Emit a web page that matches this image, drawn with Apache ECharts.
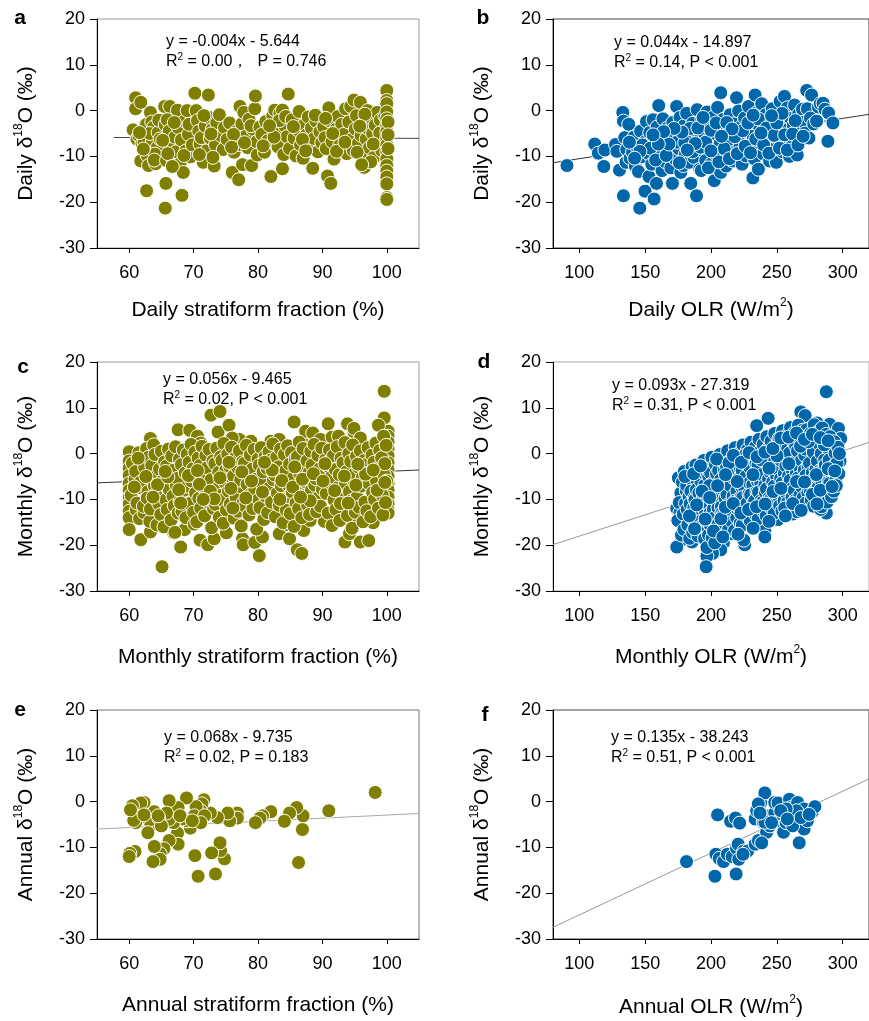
<!DOCTYPE html>
<html lang="en" style="height: 100%">
<head>
  <meta charset="utf-8">
</head>
<body style="height: 100%; margin: 0; background: #fff">
  <div id="container" style="width: 869px; height: 1021px"></div>

  <script type="text/javascript" src="https://cdn.jsdelivr.net/npm/echarts@6/dist/echarts.min.js"></script>

  <script type="text/javascript">
    // tick values
    var fracTicks = [60, 70, 80, 90, 100];
    var olrTicks = [100, 150, 200, 250, 300];

    // a: daily stratiform fraction (%) vs daily d18O
    var aPts = [
      [60.6,-4.2],[61.0,2.8],[61.0,0.4],[61.2,-6.2],[61.8,1.8],[61.8,-11],[61.5,-5.5],[62.0,-7.2],[62.3,-7],[62.5,-3.1],
      [62.7,-3],[62.7,-17.5],[62.8,-9.8],[63.0,-12],[63.3,-0.4],[63.5,-2.5],[63.6,-6.5],[63.8,-3.6],[63.2,-5],[64.1,-11.6],
      [64.4,-8],[64.5,-4.8],[64.0,-9.5],[64.8,-6.2],[63.9,-10.8],[62.2,-8.4],[61.6,-4.8],[64.6,-2.1],
      [65.5,0.9],[65.6,-21.3],[65.7,-15.9],[65.8,-10.9],[66.3,0.9],[65.6,-3.1],[65.9,-2],[66.2,-4.5],[66.5,-7.8],[66.9,-11.1],
      [67.1,-5.8],[67.5,0.1],[67.3,-9],[67.6,-3.7],[67.9,-11.6],[68.2,-18.5],[68.4,-13.5],[68.1,-6.4],[68.6,-2.3],[68.8,-8.8],
      [69.0,0],[69.2,-5.2],[69.5,-10.1],[69.3,-3],[66.0,-9.4],[67.0,-2.6],[68.5,-9.8],[69.8,-7.5],[65.2,-6.5],[66.7,-12.2],
      [70.2,3.8],[70.4,0],[70.6,-2.2],[70.8,-4.5],[71.0,-7.3],[71.2,-5.9],[71.5,-11.3],[71.8,-3.4],[72.0,-8.8],[72.3,3.4],
      [72.4,-1.5],[72.6,-6],[72.9,-4.1],[73.2,-12.1],[73.4,-7.5],[73.6,-2.7],[74.0,-0.9],[74.3,-5.5],[74.6,-8.5],[73.0,-10.2],
      [71.6,-1.1],[74.8,-3.7],[70.9,-9.6],[72.7,-5.1],
      [75.2,-6.3],[75.6,-2.7],[76.0,-13.5],[76.3,-9.1],[76.6,-4.6],[77.0,-15.1],[77.2,0.9],[77.1,-7.4],[77.5,-2.9],[77.6,-11.8],
      [77.8,-0.4],[78.1,-5.6],[78.4,-8.1],[78.6,-1.9],[79.0,-12],[79.2,-4.1],[79.5,0.4],[79.6,3.2],[79.8,-6.8],[79.9,-9.7],
      [76.2,-5.2],[78.9,-3.3],[75.9,-8.0],[77.9,-7.0],
      [80.3,-3.6],[80.6,-5.2],[81.0,-9.1],[81.2,-2.4],[81.5,-6.6],[82.0,-14.4],[82.3,-1.2],[82.6,0.1],[82.8,-4.5],[83.1,-7.9],
      [83.4,-0.6],[83.8,0.1],[83.8,-12.7],[84.0,-9.6],[84.2,-3.4],[84.7,3.6],[84.5,-5.7],[84.9,-8.3],[82.5,-5.8],[83.3,-2.2],
      [80.8,-7.7],[81.8,-3.3],[84.3,-1.3],
      [85.3,-2],[85.6,-6],[85.9,-9.9],[86.2,-4.2],[86.4,-0.2],[86.6,-7.5],[87.0,-10.4],[87.2,-3.1],[87.5,-5.3],[87.8,-1.4],
      [88.0,-8.2],[88.3,-3.8],[88.5,-12.6],[88.7,-6.1],[89.0,-2.3],[89.3,-9],[89.6,-4.6],[89.9,-7],[85.5,-3.5],[86.9,-6.3],
      [88.9,-1.0],[87.4,-8.8],
      [90.2,-3.5],[90.4,-5.9],[90.6,-8.3],[90.8,-14.3],[91.0,0.6],[91.3,-15.9],[91.1,-2.2],[91.5,-6.8],[91.8,-10.6],[92.1,-4.1],
      [92.4,-1.3],[92.7,-7.6],[93.0,-3],[93.3,-5.2],[93.6,0.4],[93.8,-9.4],[94.1,-2.5],[94.4,0.9],[94.6,-6.3],[94.9,2.3],
      [94.8,-8.7],[90.5,-1.7],[92.2,-8.9],[93.5,-6.9],[91.6,-5.0],
      [95.1,-4],[95.3,-1.1],[95.6,-7.1],[95.9,1.8],[96.0,-5.4],[96.2,-9.8],[96.4,-2.8],[96.5,-12.4],[96.8,-6.2],[97.0,0],
      [97.1,-3.9],[97.3,-8.1],[97.6,-1.6],[97.8,-5],[98.0,-10.2],[98.2,-3.2],[98.5,-0.4],[98.7,-6.8],[99.0,-2.1],[99.2,-8.7],
      [99.5,-4.4],[99.7,-1.2],[95.4,-9.1],[96.6,-0.8],[97.5,-11.2],[98.9,-4.9],[95.8,-3.4],[97.9,-7.3],[96.1,-11.8],
      [100,4.4],[100,2.2],[100,1.5],[100,-0.3],[100,-1.8],[100,-3.2],[100,-4.6],[100,-6],[100,-7.5],[100,-9],
      [100,-10.5],[100,-12],[100,-13.2],[100,-14.5],[100,-16],[100,-19],[100,-19.4],[100.2,-2.5],[100.2,-5.3],[100.2,-8.3]
    ];

    // b: daily OLR vs daily d18O
    var bPts = [
      [90.6,-12],[111.7,-7.3],[114.4,-9.3],[118.6,-12.2],[119.4,-8.6],[127.5,-7.4],[128.5,-8.9],[130.5,-13],[133,-0.4],[133.5,-2.3],
      [133.5,-18.6],[134.5,-5.9],[135.5,-11.3],[136,-8.5],[137.5,-3],[138.5,-10.4],[140.4,-9.1],[141.5,-5.8],[142.5,-12.1],[144,-8],
      [144.9,-13.3],[145.9,-21.3],[146.5,-4.5],[147.5,-10.1],[149.9,-17.6],[150,-6.8],[151,-2.4],[152,-9.3],[152.9,-14.4],[153.5,-4.8],
      [155,-11.7],[156,-2],[156.8,-19.3],[157,-7.3],[158.6,-15.9],[159,-3.6],[160.3,1.1],[160.5,-9.9],[161.5,-5.5],[162.8,-13.1],
      [163.5,-1.8],[164.5,-7.6],[165.5,-11.2],[166.5,-3.9],[167.5,-9.2],[168.5,-5.3],[169.5,-12.5],[170.7,-15.9],[171,-2.6],[172,-7],
      [173,-10.6],[173.9,0.9],[174.5,-4.6],[175.5,-8.3],[176.5,-1.5],[177,-13.5],[178,-6.1],[178.9,-12],[179.5,-3.3],[180.5,-9.5],
      [181.5,-0.6],[182.5,-5.2],[183.5,-11.3],[184.6,-15.9],[185,-7.8],[186,-2.8],[187,-10.2],[188,-4.4],[189,-18.6],[189.5,0.2],
      [190.5,-6.6],[191.5,-12.8],[192.6,-13.1],[193,-2],[194,-8.8],[195,-4.9],[196,-10.9],[197,-0.3],[198,-6.3],[199,-3.1],
      [200,-11.7],[201,-8],[202,-1.4],[202.5,-15.3],[203,-5],[204,-9.6],[205,0.7],[206,-3.7],[207,-7.1],[207.4,3.9],
      [207.4,-13.5],[208.5,-10.2],[209.5,-1.9],[210.5,-5.9],[211.5,-12.1],[212.5,-4.1],[213.5,-8.5],[214.5,-0.9],[215.5,-6.7],[216.5,-11],
      [217.5,-2.9],[218.5,-9],[219.4,2.8],[220,-5.3],[221,-0.1],[222,-7.9],[223,-3.5],[223.6,-11.7],[224.5,-6],[225.5,-1.6],
      [226.5,-9.9],[227.5,-4.6],[228.5,0.9],[229.5,-7.3],[230.5,-2.4],[231.8,-14.7],[232,-5.6],[233,-10.5],[233.5,3.4],[234.5,-0.5],
      [235.5,-8.2],[236,-12.8],[236.5,-3.3],[237.5,-6.6],[238.5,1.5],[239.5,-9.4],[240.5,-4.2],[241.5,-0.9],[242.5,-7],[243.5,-2.1],
      [244.5,-11],[245.5,-5.1],[246.5,0.4],[247.5,-8.4],[248.5,-3.4],[249.6,-11.3],[250.5,-6.1],[251.5,-1.3],[252.5,2],[253.5,-4.6],
      [254.5,-9],[255.8,3.1],[256,-2.6],[257,-6.8],[258,0.6],[259,-4],[259.6,-10],[260.5,-1.7],[261.5,-7.6],[262.5,-3.2],
      [263.5,1.2],[264.5,-5.4],[265.5,-9.7],[266.5,-0.8],[267.5,-3.9],[268.5,-6.4],[269.5,0.3],[270.5,-2.5],[271.5,-4.9],[272.7,4.4],
      [273.2,0.4],[274.4,-6],[275.5,-1.6],[276.4,3.4],[278,-2.9],[280.2,-2.3],[281.5,0.8],[283,1.5],[285.1,1.6],[286.5,0.3],
      [288.8,-6.7],[289.3,-0.5],[292.6,-2.7],
      [148,-7.5],[154,-8.2],[158,-10.8],[162,-6.2],[166,-9.8],[170,-4.4],[174,-6.9],[176,-11.4],[180,-7],[184,-3.9],
      [186,-9],[190,-3.8],[192,-8],[196,-6.9],[198,-12.5],[200,-4.3],[204,-2.7],[206,-11.2],[210,-8.3],[212,-2.6],
      [214,-10.5],[218,-5.7],[220,-9.4],[224,-4.4],[226,-7.8],[228,-2.7],[230,-9.2],[234,-6.2],[236,-1.8],[240,-7.5],
      [242,-3.8],[244,-9.3],[248,-5.4],[250,-2.7],[252,-8.2],[256,-5.3],[258,-8.6],[262,-5.1],[264,-2.2],[266,-7.5],
      [270,-5.6],[254,-0.6],[246,-1.1],[238,-4.9],[232,-1.0],[216,-4.0],[208,-5.6],[200,-8.8],[194,-1.5],[188,-7.2],
      [182,-8.6],[178,-4.7],[172,-3.9],[168,-7.3],[164,-4.6],[160,-7.3],[156,-5.3],[146,-8.9],[142,-10.4],[138,-6.9]
    ];

    // c: monthly stratiform fraction (%) vs monthly d18O
    var cPts = [
      [60,0.4],[60,-1.6],[60,-3.2],[60,-4.8],[60,-6.5],[60,-8],[60,-9.5],[60,-11],[60,-12.6],[60,-14],[60,-16.6],
      [100.2,4.9],[100.2,3.8],[100.2,2.5],[100.2,1],[100.2,-0.5],[100.2,-2],[100.2,-3.5],[100.2,-5],[100.2,-6.5],[100.2,-8],
      [100.2,-9.5],[100.2,-11],[100.2,-12.4],[100.2,-13],
      [99.6,13.6],[99.6,7.8],[98.7,6.2],[72.7,8.4],[74.1,9.2],[73.8,4.7],[67.6,5.2],[69.4,5.1],[75.5,6.2],[85.6,6.9],
      [90.9,6.5],[93.9,6.5],[94.9,4.7],[63.3,3.3],[70.6,3.8],[65.1,-24.7],[68,-20.4],[61.8,-18.8],[63.3,-17.1],[71,-18.9],
      [72.2,-19.9],[73.2,-18.6],[75.1,-17.3],[77.6,-18.6],[77.7,-19.9],[79.5,-19.4],[80.2,-22.3],[80.7,-18.2],[83.3,-17.5],[84.9,-18.6],
      [86.1,-21],[86.8,-21.8],[87.1,-16.8],[88.1,-14.6],[93.5,-19.3],[94.2,-17.5],[95.9,-19.3],[97.2,-19],[97.9,-15.1],[90.3,-14.8],
      [92.4,-14.8],[94.7,-14.4],[68.6,-16.6],[66.2,-16.2],[66.9,-17.3],[84.6,-15.5],[84.6,-12.6],[80.9,-13.7],[76.3,-13.7],
      [82,2.7],[83.3,3.1],[86.9,2.3],[87.4,4.9],[88.5,4.5],[89.7,3.1],[91.5,3.6],[92.5,3.8],[94.9,5.5],[95.9,3.4],
      [77.1,3.1],[78.9,2.7],[76,3.4],[71.1,2.3],
      [60.5,-2.1],[60.9,-5.6],[60.3,-9.1],[61.1,-12.3],[61.5,0.2],[61.0,-3.9],[61.7,-7.4],[61.2,-10.8],[61.6,-14.2],
      [62.1,-1.5],[61.8,-6.2],[62.3,-12.9],[62.7,1.1],[62.4,-3.0],[62.9,-8.3],[62.2,-11.5],
      [63.0,-0.8],[63.4,-5.1],[62.8,-9.7],[63.2,-14.8],[63.8,1.9],[63.5,-2.6],[63.9,-7.0],[63.3,-12.1],
      [64.0,-0.2],[64.5,-4.4],[64.1,-8.9],[64.6,-11.0],[64.3,-15.6],[65.0,0.5],[64.7,-3.4],[65.1,-6.5],[64.9,-13.3],
      [65.5,-1.8],[65.2,-5.9],[65.7,-10.1],[65.4,-16.0],[66.1,1.0],[65.8,-2.7],[66.2,-7.8],[65.9,-12.2],
      [66.6,-0.5],[66.3,-4.8],[66.8,-9.3],[66.5,-14.5],[67.2,1.5],[66.9,-3.6],[67.3,-6.9],[67.0,-11.4],[67.1,-17.2],
      [67.8,-1.2],[67.5,-5.4],[67.9,-10.4],[67.6,-13.0],[68.4,0.8],[68.1,-2.4],[68.5,-8.0],[68.2,-12.6],
      [69.0,-0.1],[68.7,-4.2],[69.1,-7.1],[68.8,-14.0],[69.6,2.0],[69.3,-1.9],[69.7,-6.0],[69.4,-10.9],
      [70.2,0.3],[69.9,-3.3],[70.3,-8.6],[70.0,-12.8],[70.1,-15.4],[70.7,-1.0],[70.4,-5.2],[70.8,-9.8],[70.5,-14.9],
      [71.3,1.6],[71.0,-2.6],[71.4,-7.3],[71.1,-11.9],[71.9,-0.4],[71.6,-4.6],[72.0,-8.9],[71.7,-13.6],
      [72.4,0.9],[72.1,-3.1],[72.5,-6.4],[72.2,-10.5],[73.0,-1.6],[72.7,-5.7],[73.1,-12.0],[72.8,-16.2],
      [73.6,1.2],[73.3,-2.2],[73.7,-7.6],[73.4,-11.1],[74.2,-0.7],[73.9,-4.1],[74.3,-9.1],[74.0,-13.9],
      [74.7,2.2],[74.4,-1.5],[74.8,-6.2],[74.5,-10.2],[74.6,-15.2],[75.3,-0.1],[75.0,-3.6],[75.4,-8.2],[75.1,-12.3],
      [75.9,1.4],[75.6,-2.8],[76.0,-5.5],[75.7,-11.0],[76.5,-0.9],[76.2,-4.9],[76.6,-9.6],[76.3,-14.1],
      [77.1,0.6],[76.8,-3.0],[77.2,-7.2],[76.9,-12.6],[77.6,-1.8],[77.3,-5.8],[77.7,-10.7],[77.4,-15.8],
      [78.2,1.8],[77.9,-2.1],[78.3,-6.7],[78.0,-11.5],[78.8,-0.3],[78.5,-4.3],[78.9,-8.8],[78.6,-13.4],
      [79.4,0.9],[79.1,-3.4],[79.5,-7.9],[79.2,-12.0],[80.0,-1.2],[79.7,-5.6],[80.1,-10.0],[79.8,-16.5],
      [80.5,1.3],[80.2,-2.5],[80.6,-6.4],[80.3,-11.8],[81.1,-0.6],[80.8,-4.0],[81.2,-9.3],[80.9,-14.4],
      [81.7,0.4],[81.4,-3.2],[81.8,-7.5],[81.5,-12.9],[82.3,2.1],[82.0,-1.4],[82.4,-5.7],[82.1,-10.6],
      [82.9,-0.8],[82.6,-4.7],[83.0,-8.6],[82.7,-13.8],[83.5,1.0],[83.2,-2.9],[83.6,-7.0],[83.3,-11.3],
      [84.1,-0.2],[83.8,-5.0],[84.2,-9.9],[83.9,-15.1],[84.6,1.7],[84.3,-3.7],[84.7,-6.8],[84.4,-12.4],
      [85.2,0.2],[84.9,-2.3],[85.3,-8.4],[85.0,-13.1],[85.8,-1.1],[85.5,-5.3],[85.9,-10.8],[85.6,-15.9],
      [86.4,2.5],[86.1,-0.7],[86.5,-4.5],[86.2,-7.6],[86.3,-12.0],[87.0,1.1],[86.7,-3.1],[87.1,-9.2],[86.8,-14.0],
      [87.6,-1.6],[87.3,-6.1],[87.7,-11.2],[88.2,0.5],[87.9,-4.2],[88.3,-8.0],[88.0,-13.3],
      [88.7,2.0],[88.4,-2.5],[88.8,-6.9],[88.5,-10.4],[89.3,-0.4],[89.0,-5.5],[89.4,-9.6],[89.1,-12.7],
      [89.9,1.2],[89.6,-3.3],[90.0,-7.8],[89.7,-11.5],[90.5,-1.3],[90.2,-4.8],[90.6,-8.7],
      [91.1,0.8],[90.8,-2.7],[91.2,-6.3],[90.9,-13.0],[91.7,-0.5],[91.4,-5.1],[91.8,-10.1],[91.5,-15.7],
      [92.3,1.5],[92.0,-3.5],[92.4,-7.4],[92.1,-12.2],[92.9,-1.0],[92.6,-4.6],[93.0,-9.0],[92.7,-14.6],
      [93.5,2.4],[93.2,-2.0],[93.6,-6.6],[93.3,-11.0],[94.1,0.0],[93.8,-3.9],[94.2,-8.3],[93.9,-13.5],
      [94.7,1.9],[94.4,-1.7],[94.8,-5.8],[94.5,-10.3],[94.6,-16.3],[95.3,-0.6],[95.0,-4.4],[95.4,-9.5],[95.1,-12.8],
      [95.9,0.6],[95.6,-3.0],[96.0,-7.1],[95.7,-11.7],[96.5,-1.5],[96.2,-5.2],[96.6,-10.6],[96.3,-14.9],
      [97.1,1.3],[96.8,-2.4],[97.2,-6.5],[96.9,-12.5],[97.7,-0.3],[97.4,-4.1],[97.8,-8.5],[97.5,-13.8],
      [98.3,2.3],[98.0,-1.9],[98.4,-5.9],[98.1,-10.0],[98.9,0.7],[98.6,-3.2],[99.0,-7.7],[98.7,-11.9],
      [99.5,3.8],[99.2,-0.9],[99.6,-4.7],[99.3,-9.1],[99.4,-13.4],[99.9,1.8],[99.7,-2.2],[100.0,-6.0],[99.8,-10.7],
      [60.8,-7.3],[62.6,-5.0],[64.4,-6.8],[66.0,-5.1],[67.7,-7.9],[69.2,-4.8],[70.9,-6.7],[72.6,-8.2],[74.1,-5.3],[75.8,-7.6],
      [77.5,-4.0],[79.0,-6.0],[80.7,-8.4],[82.2,-3.6],[83.7,-5.9],[85.4,-7.3],[86.9,-5.6],[88.6,-4.4],[90.1,-6.0],[91.9,-8.1],
      [93.4,-4.9],[95.2,-6.9],[96.7,-4.5],[98.5,-8.0],[99.7,-6.3],[61.4,-1.0],[63.7,-9.5],[65.6,-3.9],[68.0,-10.8],[70.6,-3.7],
      [73.2,-9.9],[75.5,-1.9],[78.1,-9.7],[81.0,-1.9],[83.4,-10.0],[85.7,-2.9],[88.1,-10.3],[90.4,-2.2],[92.8,-10.9],[95.5,-2.3],
      [97.9,-3.6],[71.5,-10.0],[76.1,-11.9],[86.6,-9.5],[94.0,-10.8]
    ];

    // d: monthly OLR vs monthly d18O
    var dPts = [
      [287.6,13.5],[268.2,9.1],[271.5,8.3],[243.4,7.7],[234.7,6.1],[280.6,6.7],[290.1,6.4],[296.8,5.5],[298.5,3.3],[292.6,0.1],
      [298,-1.7],[293,-5.4],[291.8,-7.9],[287.6,-13],[262,-13.2],[250.9,-14.4],[247.1,-13],[239.7,-15.5],[240.9,-16.8],[240.9,-18.2],
      [225.6,-19.9],[224.9,-18.9],[216.1,-17.5],[209.4,-19.5],[207.4,-21],[201.2,-21.8],[196.9,-22.4],[196.3,-24.7],[198.5,-18.9],[185.6,-19.3],
      [177.7,-18.8],[174,-20.4],[174,-12],[177.7,-10.1],[178.4,-5.6],[183.9,-3.4],[189.6,-3.3],[192.6,-17],[190,-15.2],[182.6,-14.4],
      [175.2,-5.3],[177.1,-8.6],[176.4,-12.9],[174.8,-14.6],[177.6,-17.8],[175.9,-10.7],
      [179.8,-3.9],[178.3,-6.2],[180.6,-10.9],[178.9,-13.2],[179.4,-16.6],[181.2,-8.1],
      [182.7,-4.8],[181.5,-7.0],[183.3,-9.4],[181.9,-12.2],[182.4,-15.6],[183.8,-18.5],[184.1,-11.0],
      [185.6,-2.9],[186.4,-6.3],[184.7,-8.2],[186.9,-11.9],[185.2,-14.1],[186.1,-17.2],[187.3,-9.7],
      [188.5,-2.5],[189.3,-5.7],[187.8,-10.1],[189.9,-12.8],[188.2,-15.8],[190.1,-18.0],[188.9,-7.9],
      [191.4,-4.1],[192.3,-6.0],[190.8,-8.6],[192.8,-11.4],[191.7,-13.2],[193.1,-16.3],[190.6,-14.9],
      [194.6,-1.5],[193.7,-4.1],[195.3,-6.9],[194.2,-9.5],[195.8,-12.6],[193.9,-15.5],[195.1,-18.6],[196.2,-10.8],
      [197.5,-2.9],[198.3,-5.0],[196.6,-8.1],[198.8,-11.3],[197.2,-14.9],[198.1,-17.8],[196.9,-20.5],[199.2,-13.0],
      [200.6,-0.8],[199.7,-4.2],[201.3,-6.4],[200.2,-9.9],[201.8,-12.1],[199.4,-15.6],[200.9,-18.4],[202.1,-7.5],
      [203.4,-2.4],[204.2,-4.4],[202.7,-8.3],[204.6,-10.2],[203.1,-13.9],[204.9,-16.1],[202.9,-19.5],[205.3,-11.8],
      [206.7,-0.2],[205.8,-3.7],[207.4,-5.7],[206.2,-9.5],[207.9,-11.6],[205.5,-15.3],[207.1,-17.1],[208.2,-13.0],
      [209.3,-1.8],[210.2,-3.6],[208.6,-7.7],[210.7,-9.8],[209.1,-13.4],[210.5,-15.6],[211.3,-6.2],
      [212.6,0.6],[211.8,-2.9],[213.4,-5.0],[212.1,-8.9],[213.9,-11.0],[211.6,-14.6],[213.2,-16.6],[214.3,-12.6],
      [215.5,-1.3],[216.3,-3.2],[214.7,-7.0],[216.8,-9.3],[215.2,-12.8],[216.1,-14.9],[217.2,-5.3],
      [218.4,1.3],[219.2,-2.2],[217.6,-4.3],[219.7,-8.2],[218.1,-10.4],[219.5,-14.0],[217.9,-16.8],[220.2,-12.1],
      [221.6,0.1],[222.4,-3.4],[220.8,-5.6],[222.9,-9.5],[221.3,-11.8],[222.2,-15.2],[223.4,-7.3],
      [224.3,1.9],[225.1,-1.6],[223.7,-3.7],[225.6,-7.5],[224.0,-9.6],[225.4,-13.4],[223.8,-15.6],[226.2,-11.3],
      [227.6,0.8],[228.3,-2.7],[226.8,-4.9],[228.9,-8.8],[227.2,-10.9],[228.1,-14.0],[229.3,-6.4],
      [230.4,2.5],[231.2,-1.1],[229.7,-3.1],[231.7,-6.8],[230.1,-9.0],[231.5,-12.9],[229.9,-14.7],[232.3,-10.7],
      [233.6,1.4],[234.3,-2.2],[232.8,-4.4],[234.9,-8.3],[233.2,-10.3],[234.1,-13.4],[235.3,-6.0],
      [236.4,3.1],[237.2,0.4],[235.7,-2.5],[237.7,-6.2],[236.1,-8.4],[237.5,-12.3],[235.9,-14.2],[238.3,-10.2],
      [239.6,2.0],[240.3,-0.9],[238.8,-4.6],[240.9,-6.9],[239.2,-10.6],[240.1,-12.7],[241.3,-8.5],
      [242.4,3.7],[243.2,1.0],[241.7,-1.8],[243.7,-5.6],[242.1,-7.7],[243.5,-11.6],[241.9,-13.6],[244.3,-9.6],
      [245.6,2.7],[246.3,-0.2],[244.8,-4.0],[246.9,-6.2],[245.2,-10.0],[246.1,-12.0],[247.3,-2.4],
      [248.4,4.4],[249.2,1.7],[247.7,-1.2],[249.7,-4.9],[248.1,-7.1],[249.5,-10.9],[247.9,-13.0],[250.3,-8.9],
      [251.6,3.3],[252.3,0.5],[250.8,-3.4],[252.9,-5.5],[251.2,-9.3],[252.1,-11.4],[253.3,-1.5],
      [254.4,5.0],[255.2,2.3],[253.7,-0.5],[255.7,-4.3],[254.1,-6.4],[255.5,-10.3],[253.9,-12.5],[256.3,-8.1],
      [257.6,3.9],[258.3,1.1],[256.8,-2.7],[258.9,-4.9],[257.2,-8.6],[258.1,-10.7],[259.3,-6.5],
      [260.4,5.7],[261.2,3.0],[259.7,0.1],[261.7,-3.6],[260.1,-5.8],[261.5,-9.6],[259.9,-11.8],[262.3,-7.4],
      [263.6,4.6],[264.3,1.7],[262.8,-2.0],[264.9,-4.2],[263.2,-8.0],[264.1,-10.2],[265.3,-12.7],
      [266.4,6.2],[267.2,3.4],[265.7,0.6],[267.7,-3.2],[266.1,-5.3],[267.5,-9.1],[265.9,-11.2],[268.3,-6.9],
      [269.6,5.1],[270.3,2.2],[268.8,-1.5],[270.9,-3.6],[269.2,-7.4],[270.1,-9.6],[271.3,-0.4],
      [272.4,5.2],[273.2,3.8],[271.7,1.0],[273.7,-2.7],[272.1,-4.8],[273.5,-8.5],[271.9,-10.8],[274.3,-6.4],
      [275.6,4.4],[276.3,1.6],[274.8,-2.1],[276.9,-4.2],[275.2,-7.9],[276.1,-10.1],[277.3,-5.9],
      [278.4,6.3],[279.2,3.1],[277.7,0.3],[279.7,-3.4],[278.1,-5.5],[279.5,-9.2],[277.9,-11.5],[280.3,-7.3],
      [281.6,4.8],[282.3,2.1],[280.8,-1.6],[282.9,-3.7],[281.2,-7.5],[282.1,-9.9],[283.3,-12.2],
      [284.4,5.6],[285.2,2.9],[283.7,0.0],[285.7,-3.1],[284.1,-6.0],[285.5,-8.9],[283.9,-11.6],[286.3,-1.4],
      [287.6,4.2],[288.3,1.3],[286.8,-2.5],[288.9,-4.6],[287.2,-7.8],[288.1,-10.6],[289.3,-6.2],
      [290.4,3.7],[291.2,2.0],[289.7,-1.4],[291.7,-4.3],[290.1,-6.5],[291.5,-9.4],
      [293.6,2.6],[294.3,0.1],[292.8,-2.8],[294.9,-5.6],[293.2,-8.2],
      [296.4,1.4],[295.7,-2.1],[297.1,-4.4],[295.2,-7.0],
      [180.2,-5.0],[183.6,-13.6],[186.8,-4.4],[189.1,-11.2],[192.0,-2.7],[195.6,-14.3],[198.9,-7.0],[201.9,-16.9],[204.3,-1.2],[207.6,-14.2],
      [210.9,-11.7],[213.7,-2.0],[216.9,-10.9],[219.9,-6.1],[222.7,-13.0],[226.1,-0.3],[228.6,-12.2],[231.9,-4.6],[234.6,-11.6],[237.9,-1.3],
      [241.1,-11.0],[244.1,-3.2],[247.1,-8.3],[250.1,-0.5],[253.1,-7.6],[256.0,-11.9],[259.1,-2.2],[262.1,-10.9],[265.0,-6.1],[268.0,1.6],
      [271.0,-6.2],[274.0,2.6],[277.0,-8.9],[280.0,-4.6],[283.0,-8.0],[286.0,1.9],[289.0,-3.3],[292.0,-7.2],[294.0,-3.8],[297.5,0.0],
      [187.5,-16.4],[193.3,-8.2],[199.0,-9.6],[205.0,-7.0],[211.0,-4.6],[217.0,-0.4],[223.0,-1.9],[229.0,0.2],[235.0,-0.7],[241.0,0.3],
      [247.0,1.1],[253.0,3.4],[259.0,3.6],[265.0,4.5],[271.0,3.1],[277.0,4.2],[283.0,3.5],[289.0,2.8],[244.0,-14.8],[256.5,-13.6],
      [268.5,-12.4],[280.5,-11.0],[232.0,-16.3],[220.5,-17.6],[209.0,-18.2]
    ];

    // e: annual stratiform fraction (%) vs annual d18O
    var ePts = [
      [98.2,2],[91,-2],[87,-3.1],[86.9,-6.1],[86.3,-13.3],[86,-1.3],[84.9,-2.5],[84.1,-4.3],[82,-2.2],[80.7,-3.1],
      [80.3,-3.6],[79.6,-4.6],[76.8,-2.5],[76.8,-3.6],[75.6,-4.2],[75.3,-2.5],[74.8,-12.5],[74.2,-10.7],[74.1,-9],[73.4,-15.8],
      [72.8,-11.2],[70.7,-16.3],[70.2,-11.8],[73.7,-3.5],[72.6,-2.5],[71.6,0.4],[71.3,-0.5],[71.1,-2],[70.4,-1.1],[70.1,-3.1],
      [69.5,-5.8],[69,-4.2],[68.9,0.8],[68.2,-3.8],[67.6,-1.3],[67.5,-6.9],[67.6,-9.3],[66.9,-4.6],[66.2,0.2],[66.2,-3.9],
      [66.2,-8.5],[65.8,-2.5],[65.4,-10.3],[64.8,-11.4],[64.8,-12.6],[64.1,-3.1],[64.1,-4.9],[63.9,-2.2],[63.9,-9.8],[63.7,-13.1],
      [63.1,-4.1],[62.9,-6.8],[62.3,-0.2],[61.8,-0.3],[61.7,-3.5],[61,-4.6],[60.7,-4.1],[60.5,-0.9],[60.2,-1.8],[60.9,-10.9],
      [60.1,-11.3],[60,-12],[62.3,-2.9],[64.6,-3.6],[67.9,-3.1],[71.7,-3.1],[71.1,-4.6],[69.8,-4.2],[65,-5.3],[64.5,-3.1]
    ];

    // f: annual OLR vs annual d18O
    var fPts = [
      [181.4,-13.1],[203,-16.3],[219.1,-15.8],[205,-2.9],[214.9,-4.3],[218.6,-3.6],[221.8,-4.7],[203.7,-11.5],[206.2,-12.4],[209.5,-13.1],
      [212.4,-11.5],[216.1,-12],[219.4,-10.2],[220.6,-9.3],[221.1,-12.6],[224.8,-10.8],[227.8,-10.8],[224.3,-11.5],[233.5,-9.3],[236,-8.5],
      [233.5,-3.8],[234.7,-2],[237.2,-0.8],[237.7,-0.2],[240.9,1.9],[239.7,-4.5],[242.2,-6.7],[240.9,-3.1],[244.7,-3.1],[248.4,-2.5],
      [248.4,-0.2],[250.9,-0.3],[251.6,-4.2],[254.6,-3.1],[255.1,-6.7],[257.1,-4.6],[259.6,0.5],[260.8,-1.3],[263.3,-4.2],[265.8,-0.2],
      [267,-9],[269.5,-3.1],[270.7,-1.6],[270.7,-6],[273.2,-4.2],[276.9,-2.2],[278.9,-1.1],[265,-2],[257.1,-1.6],[244.7,-5.3],
      [240.9,-4.5],[235.9,-0.5],[237.2,-2.5],[262,-5.3],[268.2,-3.5],[246,-4.6],[253,-2],[258,-3.8],[274.5,-2.8],[238.5,-9]
    ];

    // regression lines, end points
    var aLine = [[57.6, -5.87], [105, -6.06]];
    var bLine = [[80, -11.38], [320, -0.82]];
    var cLine = [[55, -6.39], [105, -3.59]];
    var dLine = [[80, -19.88], [320, 2.44]];
    var eLine = [[55, -6.0], [105, -2.6]];
    var fLine = [[80, -27.44], [320, 4.96]];

    var letters = ['a', 'b', 'c', 'd', 'e', 'f'];
    var eqText = ['y = -0.004x - 5.644', 'y = 0.044x - 14.897', 'y = 0.056x - 9.465',
                  'y = 0.093x - 27.319', 'y = 0.068x - 9.735', 'y = 0.135x - 38.243'];
    var statText = ['R{s|2} = 0.00，  P = 0.746', 'R{s|2} = 0.14, P < 0.001', 'R{s|2} = 0.02, P < 0.001',
                    'R{s|2} = 0.31, P < 0.001', 'R{s|2} = 0.02, P = 0.183', 'R{s|2} = 0.51, P < 0.001'];
    var xNames = ['Daily stratiform fraction (%)', 'Daily OLR (W/m{s|2})',
                  'Monthly stratiform fraction (%)', 'Monthly OLR (W/m{s|2})',
                  'Annual stratiform fraction (%)', 'Annual OLR (W/m{s|2})'];
    var yNames = ['Daily', 'Daily', 'Monthly', 'Monthly', 'Annual', 'Annual'];

    var FF = "'Liberation Sans', Arial, sans-serif";
    var OLIVE = '#808000';
    var BLUE = '#0067aa';

    var pts = [aPts, bPts, cPts, dPts, ePts, fPts];
    var lines = [aLine, bLine, cLine, dLine, eLine, fLine];

    var gridLeft = [97, 553, 97, 553, 97, 553];
    var gridTop = [19, 19, 362, 362, 710, 710];
    var frameColor = ['#999', '#444', '#999', '#aaa', '#777', '#444'];
    var lineColor = ['#444', '#333', '#333', '#999', '#aaa', '#999'];
    var xGap = [49, 49, 53, 53, 53, 55];
    var eqPos = [[166, 42], [614, 43], [163, 380], [612, 386], [164, 738], [611, 738]];
    var letterPos = [[20, 18], [483, 18], [23, 367], [484, 362], [20, 710], [485, 715]];

    var dom = document.getElementById('container');
    var myChart = echarts.init(dom, null, { renderer: 'canvas' });

    var grids = [], xAxes = [], yAxes = [], series = [], graphics = [];
    var nameRich = {
      s: { fontSize: 12, fontFamily: FF, color: '#000', verticalAlign: 'top', lineHeight: 26 }
    };

    for (var i = 0; i < 6; i++) {
      var isFrac = i % 2 === 0;
      grids.push({
        left: gridLeft[i], top: gridTop[i], width: 322, height: 229,
        show: true, borderColor: frameColor[i], borderWidth: 1, backgroundColor: 'transparent'
      });
      xAxes.push({
        type: 'value', gridIndex: i,
        min: isFrac ? 55 : 80, max: isFrac ? 105 : 320,
        name: xNames[i], nameLocation: 'middle', nameGap: xGap[i],
        nameTextStyle: { fontSize: 21, fontFamily: FF, color: '#000', lineHeight: 26, rich: nameRich },
        axisLine: { onZero: false, lineStyle: { color: '#000', width: 1 } },
        axisTick: { length: 5, lineStyle: { color: '#000' }, customValues: isFrac ? fracTicks : olrTicks },
        axisLabel: { fontSize: 18, fontFamily: FF, color: '#000', margin: 16, customValues: isFrac ? fracTicks : olrTicks },
        splitLine: { show: false }
      });
      yAxes.push({
        type: 'value', gridIndex: i, min: -30, max: 20, interval: 10,
        name: '{a|' + yNames[i] + ' δ}{s|18}{a|O (‰)}', nameLocation: 'middle', nameGap: 58,
        nameTextStyle: {
          color: '#000',
          rich: {
            a: { fontSize: 21, fontFamily: FF, color: '#000', lineHeight: 26 },
            s: { fontSize: 12, fontFamily: FF, color: '#000', verticalAlign: 'top', lineHeight: 26 }
          }
        },
        axisLine: { onZero: false, lineStyle: { color: '#000', width: 1 } },
        axisTick: { length: 7, lineStyle: { color: '#000' } },
        axisLabel: { fontSize: 18, fontFamily: FF, color: '#000', margin: 12 },
        splitLine: { show: false }
      });
      series.push({
        type: 'line', xAxisIndex: i, yAxisIndex: i, data: lines[i], symbol: 'none', z: 1,
        lineStyle: { color: lineColor[i], width: 1 }, silent: true
      });
      series.push({
        type: 'scatter', xAxisIndex: i, yAxisIndex: i, data: pts[i], symbolSize: 14, z: 2,
        itemStyle: { color: isFrac ? OLIVE : BLUE, borderColor: '#fff', borderWidth: 1, opacity: 1 }
      });
      graphics.push({
        type: 'text', x: letterPos[i][0], y: letterPos[i][1],
        style: { text: letters[i], font: 'bold 21px ' + FF, fill: '#000', align: 'center', verticalAlign: 'middle' }
      });
      graphics.push({
        type: 'text', x: eqPos[i][0], y: eqPos[i][1],
        style: { text: eqText[i], font: '16px ' + FF, fill: '#000', verticalAlign: 'middle' }
      });
      graphics.push({
        type: 'text', x: eqPos[i][0], y: eqPos[i][1] + 20,
        style: {
          text: statText[i], fontSize: 16, fontFamily: FF, fill: '#000', verticalAlign: 'middle',
          rich: { s: { fontSize: 10, fontFamily: FF, fill: '#000', verticalAlign: 'top', lineHeight: 20 } }
        }
      });
    }

    var option = {
      backgroundColor: '#fff',
      animation: false,
      grid: grids,
      xAxis: xAxes,
      yAxis: yAxes,
      series: series,
      graphic: graphics
    };

    myChart.setOption(option);
    window.addEventListener('resize', myChart.resize);
  </script>
</body>
</html>
